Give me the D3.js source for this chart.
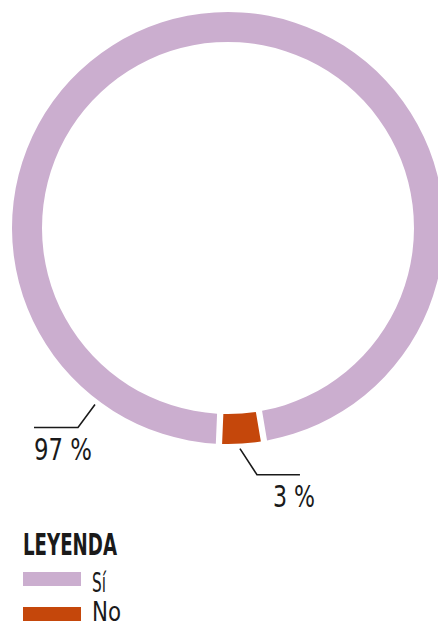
<!DOCTYPE html>
<html>
<head>
<meta charset="utf-8">
<script src="https://cdn.jsdelivr.net/npm/d3@7"></script>
<style>
  html, body { margin: 0; padding: 0; background: #fff; }
  svg { display: block; }
  text { font-family: "DejaVu Sans Condensed", "Liberation Sans", sans-serif; fill: #1a1a1a; }
</style>
</head>
<body>
<div id="chart"></div>
<script>
var categories = ["Sí", "No"]; // answer categories
var values = [97, 3]; // percentage of answers
var valueLabels = ["97 %", "3 %"]; // labels shown next to the ring
var colors = ["#cbaecf", "#c5470b"]; // slice colours

var width = 438, height = 623;
var cx = 228, cy = 228;
var outerR = 216, innerR = 186;

var svg = d3.select("#chart").append("svg")
    .attr("width", width)
    .attr("height", height);

var g = svg.append("g").attr("transform", "translate(" + cx + "," + cy + ")");

// start so that the small slice sits just right of the bottom
var deg = Math.PI / 180;
var start = 182.4 * deg;

var pie = d3.pie()
    .sort(null)
    .startAngle(start)
    .endAngle(start + 2 * Math.PI)
    .padAngle(0.022);

var arc = d3.arc()
    .innerRadius(innerR)
    .outerRadius(outerR);

var slices = pie(values);

g.selectAll("path.slice")
    .data(slices)
    .enter()
    .append("path")
    .attr("class", "slice")
    .attr("d", arc)
    .attr("fill", function(d, i) { return colors[i]; });

// leader lines: angle on the ring, elbow offset, flat part, label box
var leaders = [
    { angle: 217 * deg, ex: -17, ey: 23, len: -44, tx: 0, ty: 33, tw: 58, anchor: "start" },
    { angle: 176.9 * deg, ex: 17, ey: 26, len: 43, tx: 15, ty: 32, tw: 42, anchor: "end" }
];

function pointAt(a, r) {
    return [Math.sin(a) * r, -Math.cos(a) * r];
}

leaders.forEach(function(l, i) {
    var p0 = pointAt(l.angle, outerR + 5);
    var p1 = [p0[0] + l.ex, p0[1] + l.ey];
    var p2 = [p1[0] + l.len, p1[1]];
    g.append("polyline")
        .attr("points", [p0, p1, p2].map(function(p) { return p.join(","); }).join(" "))
        .attr("fill", "none")
        .attr("stroke", "#1a1a1a")
        .attr("stroke-width", 1.6);

    g.append("text")
        .attr("x", p2[0] + l.tx)
        .attr("y", p2[1] + l.ty)
        .attr("text-anchor", l.anchor)
        .attr("font-size", 30)
        .attr("textLength", l.tw)
        .attr("lengthAdjust", "spacingAndGlyphs")
        .text(valueLabels[i]);
});

// legend
var legend = svg.append("g").attr("transform", "translate(23,555)");

legend.append("text")
    .attr("x", 0)
    .attr("y", 0)
    .attr("font-size", 30)
    .attr("font-weight", "bold")
    .attr("textLength", 94)
    .attr("lengthAdjust", "spacingAndGlyphs")
    .text("LEYENDA");

var itemWidths = [14, 29];

var items = legend.selectAll("g.item")
    .data(categories)
    .enter()
    .append("g")
    .attr("class", "item")
    .attr("transform", function(d, i) { return "translate(0," + (17 + i * 35) + ")"; });

items.append("rect")
    .attr("width", 58)
    .attr("height", 14)
    .attr("fill", function(d, i) { return colors[i]; });

items.append("text")
    .attr("x", 69)
    .attr("y", function(d, i) { return i === 0 ? 20 : 14; })
    .attr("font-size", 27)
    .attr("textLength", function(d, i) { return itemWidths[i]; })
    .attr("lengthAdjust", "spacingAndGlyphs")
    .text(function(d) { return d; });
</script>
</body>
</html>
